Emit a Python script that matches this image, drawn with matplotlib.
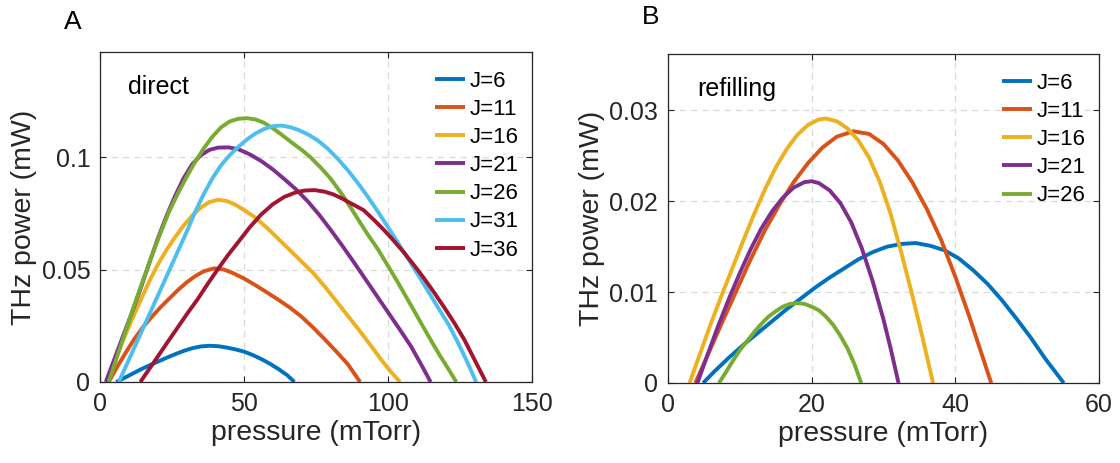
import matplotlib
matplotlib.use("Agg")
import matplotlib.pyplot as plt

plt.rcParams['font.family'] = ['Liberation Sans', 'DejaVu Sans']

# ---------------- Panel A (direct) ----------------
a_labels = ["J=6", "J=11", "J=16", "J=21", "J=26", "J=31", "J=36"]
a_j6_x = [5.6, 8, 11, 14, 17, 20, 23, 26, 29, 32, 35, 38, 41, 44, 47, 50, 53, 56, 59, 62, 65, 67.5]
a_j6_y = [0, 0.0015, 0.0035, 0.0055, 0.0073, 0.009, 0.0107, 0.0123, 0.0138, 0.0150, 0.0158, 0.0161,
          0.0159, 0.0153, 0.0145, 0.0135, 0.0120, 0.0102, 0.0081, 0.0057, 0.0030, 0]
a_j11_x = [3, 6, 9, 12, 15, 18, 21, 24, 27, 30, 33, 36, 39.5, 43, 46, 50, 54, 58, 62, 66, 70, 74,
           78, 82, 86, 90.3]
a_j11_y = [0, 0.0068, 0.0132, 0.0193, 0.0245, 0.029, 0.0332, 0.037, 0.0408, 0.0442, 0.0470, 0.0492,
           0.0505, 0.0500, 0.0485, 0.0460, 0.0430, 0.0398, 0.0365, 0.0330, 0.0290, 0.0242, 0.0190,
           0.0136, 0.0080, 0]
a_j16_x = [2.5, 5, 8, 11, 14, 17, 20, 23, 26, 29, 32, 35, 38, 41, 44, 47, 50, 54, 58, 62, 66, 70,
           74, 78, 82, 86, 90, 94, 98, 101, 104.2]
a_j16_y = [0, 0.009, 0.0185, 0.0275, 0.036, 0.0445, 0.052, 0.0585, 0.0643, 0.0695, 0.074, 0.0775,
           0.0800, 0.0810, 0.0805, 0.0788, 0.0765, 0.0730, 0.0685, 0.0635, 0.0585, 0.0535, 0.0485,
           0.0425, 0.0360, 0.0295, 0.0230, 0.0162, 0.0093, 0.0045, 0]
a_j21_x = [2, 5, 8, 11, 14, 17, 20, 23, 26, 29, 32, 35, 38, 41, 44.6, 48, 52, 56, 60, 64, 68, 72,
           76, 80, 84, 88, 92, 96, 100, 104, 108, 111.5, 114.8]
a_j21_y = [0, 0.0102, 0.0205, 0.0305, 0.0412, 0.0525, 0.0635, 0.0735, 0.0825, 0.0905, 0.0968, 0.1008,
           0.1032, 0.1042, 0.1043, 0.1035, 0.1012, 0.0982, 0.0945, 0.0902, 0.0857, 0.0805, 0.0745,
           0.0678, 0.0608, 0.0535, 0.0460, 0.0385, 0.0310, 0.0235, 0.0158, 0.0078, 0]
a_j26_x = [3, 6, 9, 12, 15, 18, 21, 24, 27, 30, 33, 36, 39, 42, 45, 48, 51, 54, 57, 60, 63, 66, 70,
           73, 76.5, 80, 84, 87.4, 90, 93, 96.5, 99.8, 103, 106, 109, 112, 115, 118, 121, 123.7]
a_j26_y = [0, 0.0115, 0.0232, 0.0345, 0.0455, 0.0562, 0.0662, 0.0758, 0.0837, 0.0910, 0.0978,
           0.1038, 0.1090, 0.1132, 0.1158, 0.1170, 0.1173, 0.1167, 0.1152, 0.1128, 0.1100, 0.1070,
           0.1032, 0.1000, 0.0955, 0.0905, 0.0835, 0.0768, 0.0715, 0.0655, 0.0590, 0.0520, 0.0452,
           0.0385, 0.0318, 0.0250, 0.0183, 0.0118, 0.0057, 0]
a_j31_x = [6.5, 9, 12, 15, 18, 21, 24, 27, 30, 33, 36, 39, 42, 45, 48, 51, 54, 57, 60, 63, 66, 69,
           72, 75.5, 79, 82.5, 86, 89.5, 93, 96.5, 100, 103.5, 107, 110.5, 114, 117.5, 121, 124,
           127.3, 130.6]
a_j31_y = [0, 0.007, 0.0155, 0.024, 0.0325, 0.041, 0.0495, 0.058, 0.0665, 0.0755, 0.0835, 0.0905,
           0.0963, 0.1008, 0.1045, 0.1078, 0.1105, 0.1125, 0.1137, 0.1140, 0.1133, 0.1120, 0.1102,
           0.1075, 0.1038, 0.0993, 0.0942, 0.0885, 0.0823, 0.0757, 0.0688, 0.0618, 0.0547, 0.0475,
           0.0402, 0.0328, 0.0256, 0.0182, 0.0095, 0]
a_j36_x = [14, 17, 20, 23.5, 27, 30.5, 34, 37.5, 41, 44.5, 48, 52, 56, 60, 64, 68, 71, 74.5, 78, 81,
           84, 87, 91.5, 95, 98.5, 102, 105.5, 109, 112.5, 116, 119.5, 123, 126.5, 130, 134]
a_j36_y = [0, 0.0056, 0.0112, 0.0178, 0.0243, 0.0308, 0.037, 0.0438, 0.0503, 0.0565, 0.0622,
           0.0688, 0.0745, 0.0790, 0.0823, 0.0843, 0.0851, 0.0853, 0.0846, 0.0834, 0.0816, 0.0795,
           0.0764, 0.0722, 0.0677, 0.0628, 0.0576, 0.0520, 0.0461, 0.0398, 0.0332, 0.0263, 0.0188,
           0.0100, 0]

# ---------------- Panel B (refilling) ----------------
b_labels = ["J=6", "J=11", "J=16", "J=21", "J=26"]
b_j6_x = [4.9, 6.5, 8.5, 10.5, 12.5, 14.5, 16.5, 18.5, 20.5, 22.5, 24.5, 26.5, 28.5, 30.5, 32.5,
          34.5, 36.5, 38.5, 40.5, 42.5, 44.5, 46.5, 48.5, 50.5, 52.5, 55.1]
b_j6_y = [0, 0.0013, 0.0028, 0.0042, 0.0055, 0.0068, 0.0081, 0.0093, 0.0105, 0.0116, 0.0126, 0.0136,
          0.0144, 0.0150, 0.0153, 0.0154, 0.0151, 0.0146, 0.0137, 0.0124, 0.0109, 0.0091, 0.0071,
          0.0050, 0.0027, 0]
b_j11_x = [3.8, 5.5, 7.5, 9.5, 11.5, 13.5, 15.5, 17.5, 19.5, 21.5, 23.5, 25.8, 28, 30, 32, 34, 36,
           38, 40, 42, 43.5, 45]
b_j11_y = [0, 0.003, 0.0066, 0.0101, 0.0136, 0.0168, 0.0196, 0.0221, 0.0242, 0.0259, 0.0271, 0.0277,
           0.0274, 0.0263, 0.0245, 0.0221, 0.0192, 0.0158, 0.0117, 0.0072, 0.0036, 0]
b_j16_x = [3, 4.5, 6, 7.5, 9, 10.5, 12, 13.5, 15, 16.5, 18, 19.5, 21, 22, 23.5, 25, 26.5, 28, 29.5,
           31, 32.5, 34, 35.5, 36.9]
b_j16_y = [0, 0.0033, 0.0066, 0.0097, 0.0127, 0.0157, 0.0186, 0.0213, 0.0237, 0.0257, 0.0273, 0.0284,
           0.0290, 0.0291, 0.0288, 0.0280, 0.0267, 0.0248, 0.0221, 0.0186, 0.0143, 0.0097, 0.0048, 0]
b_j21_x = [4.1, 5.5, 7, 8.5, 10, 11.5, 13, 14.5, 16, 17.5, 19, 20, 21, 22.5, 24, 25.5, 27, 28.5, 30,
           31, 32.1]
b_j21_y = [0, 0.0031, 0.0063, 0.0093, 0.0121, 0.0147, 0.0170, 0.0189, 0.0204, 0.0215, 0.0221, 0.0222,
           0.0220, 0.0212, 0.0198, 0.0177, 0.0148, 0.0112, 0.0070, 0.0038, 0]
b_j26_x = [7.1, 8, 9, 10, 11, 12, 13, 14, 15, 16, 17, 18, 19, 20, 21, 22, 23, 24, 25, 26, 26.9]
b_j26_y = [0, 0.0011, 0.0024, 0.0036, 0.0046, 0.0056, 0.0065, 0.0073, 0.0079, 0.0084, 0.0087, 0.0088,
           0.0087, 0.0084, 0.0080, 0.0073, 0.0064, 0.0052, 0.0038, 0.0020, 0]

colors = ["#0072BD", "#D95319", "#EDB120", "#7E2F8E", "#77AC30", "#4DBEEE", "#A2142F"]

a_series = [(a_j6_x, a_j6_y), (a_j11_x, a_j11_y), (a_j16_x, a_j16_y), (a_j21_x, a_j21_y),
            (a_j26_x, a_j26_y), (a_j31_x, a_j31_y), (a_j36_x, a_j36_y)]
b_series = [(b_j6_x, b_j6_y), (b_j11_x, b_j11_y), (b_j16_x, b_j16_y), (b_j21_x, b_j21_y),
            (b_j26_x, b_j26_y)]

fig = plt.figure(figsize=(11.2, 4.63), dpi=100)
axA = fig.add_axes([0.0893, 0.175, 0.3857, 0.7127])
axB = fig.add_axes([0.5964, 0.1728, 0.3848, 0.7106])


def style(ax):
    ax.grid(True, linestyle=(0, (5, 4)), color='#d9d9d9', linewidth=0.9)
    ax.set_axisbelow(True)
    ax.tick_params(direction='in', top=True, right=True, labelsize=18, length=4,
                   width=0.8, color='#262626', labelcolor='#262626', pad=7)
    for s in ax.spines.values():
        s.set_color('#262626')
        s.set_linewidth(0.9)
    ax.set_xlabel('pressure (mTorr)', fontsize=20.5, color='#262626', labelpad=3)
    ax.set_ylabel('THz power (mW)', fontsize=20.5, color='#262626', labelpad=3)


for (x, y), c, lab in zip(a_series, colors, a_labels):
    axA.plot(x, y, color=c, lw=2.8, label=lab, solid_capstyle='butt', solid_joinstyle='round')
axA.set_xlim(0, 150)
axA.set_ylim(0, 0.1467)
axA.set_xticks([0, 50, 100, 150])
axA.set_xticklabels(['0', '50', '100', '150'])
axA.set_yticks([0, 0.05, 0.1])
axA.set_yticklabels(['0', '0.05', '0.1'])
style(axA)
axA.text(0.065, 0.895, 'direct', transform=axA.transAxes, fontsize=18, va='center', ha='left')
axA.legend(loc='upper right', bbox_to_anchor=(1.012, 1.0), frameon=False, fontsize=16,
           handlelength=1.35, handletextpad=0.2, labelspacing=0.32, borderaxespad=0.45)

for (x, y), c, lab in zip(b_series, colors, b_labels):
    axB.plot(x, y, color=c, lw=2.8, label=lab, solid_capstyle='butt', solid_joinstyle='round')
axB.set_xlim(0, 60)
axB.set_ylim(0, 0.0362)
axB.set_xticks([0, 20, 40, 60])
axB.set_xticklabels(['0', '20', '40', '60'])
axB.set_yticks([0, 0.01, 0.02, 0.03])
axB.set_yticklabels(['0', '0.01', '0.02', '0.03'])
style(axB)
axB.text(0.068, 0.895, 'refilling', transform=axB.transAxes, fontsize=18, va='center', ha='left')
axB.legend(loc='upper right', bbox_to_anchor=(1.012, 1.0), frameon=False, fontsize=16,
           handlelength=1.35, handletextpad=0.2, labelspacing=0.32, borderaxespad=0.45)

fig.text(73 / 1120, 1 - 22 / 463, 'A', fontsize=19, ha='center', va='center')
fig.text(651 / 1120, 1 - 17 / 463, 'B', fontsize=19, ha='center', va='center')

fig.savefig('out.png', dpi=100)
